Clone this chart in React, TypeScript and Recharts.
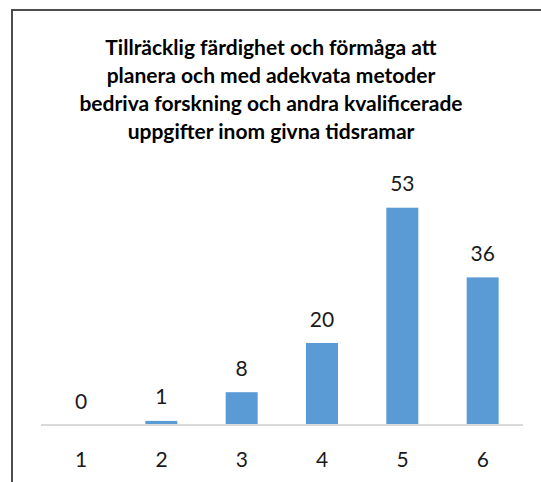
import { BarChart, Bar, XAxis, YAxis } from "recharts"

const categories = ["1", "2", "3", "4", "5", "6"]
const counts = [0, 1, 8, 20, 53, 36]
const titleLines = [
  "Tillräcklig färdighet och förmåga att",
  "planera och med adekvata metoder",
  "bedriva forskning och andra kvalificerade",
  "uppgifter inom givna tidsramar",
]

const data = categories.map((c, i) => ({ name: c, value: counts[i] }))

const FONT = "Lato, 'Liberation Sans', sans-serif"

function Tick(props: any) {
  const { x, y, payload } = props
  return (
    <text x={x} y={y + 25} textAnchor="middle" dominantBaseline="central" fill="#1a1a1a" fontSize={21} fontFamily={FONT}>
      {payload.value}
    </text>
  )
}

// bar plus its value label, so the label also shows for a zero bar
function BarWithLabel(props: any) {
  const { x, y, width, height, fill, value } = props
  const v = Array.isArray(value) ? value[1] - value[0] : value
  return (
    <g>
      {height > 0 && <rect x={x} y={y} width={width} height={height} fill={fill} />}
      <text x={x + width / 2} y={y - 25} textAnchor="middle" dominantBaseline="central" fill="#1a1a1a" fontSize={21} fontFamily={FONT}>
        {v}
      </text>
    </g>
  )
}

export default function App() {
  return (
    <div style={{ position: "absolute", left: 0, top: 0, width: 541, height: 482, background: "#fff", overflow: "hidden" }}>
      <div
        style={{
          position: "absolute",
          left: 11,
          top: 9,
          width: 540,
          height: 480,
          borderTop: "2px solid #4d4d4d",
          borderLeft: "2px solid #4d4d4d",
        }}
      />
      <div
        style={{
          position: "absolute",
          left: 11,
          top: 33,
          width: 520,
          textAlign: "center",
          fontFamily: FONT,
          fontWeight: 700,
          fontSize: 21,
          lineHeight: "28px",
          color: "#000",
        }}
      >
        {titleLines.map((l) => (
          <div key={l}>{l}</div>
        ))}
      </div>
      <div style={{ position: "absolute", left: 0, top: 0 }}>
        <BarChart width={541} height={482} data={data} margin={{ top: 179, right: 18, bottom: 27, left: 41 }}>
          <XAxis dataKey="name" axisLine={{ stroke: "#d9d9d9", strokeWidth: 2 }} tickLine={false} height={30} tick={<Tick />} interval={0} />
          <YAxis hide domain={[0, 60]} />
          <Bar dataKey="value" fill="#5b9bd5" barSize={32} isAnimationActive={false} shape={<BarWithLabel />} />
        </BarChart>
      </div>
    </div>
  )
}
